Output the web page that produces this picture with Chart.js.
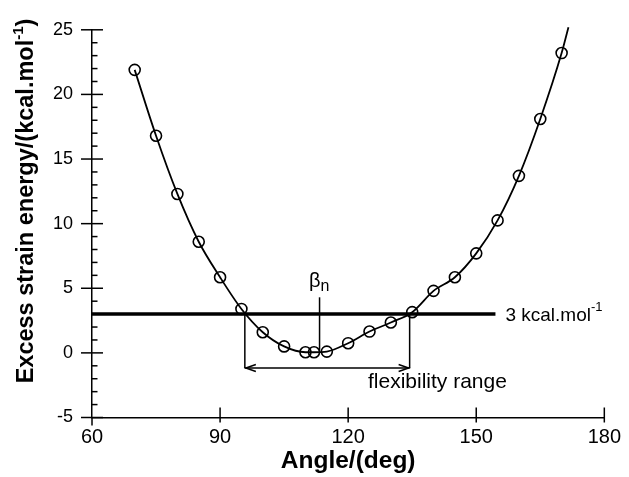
<!DOCTYPE html>
<html>
<head>
<meta charset="utf-8">
<script src="https://cdn.jsdelivr.net/npm/chart.js@4/dist/chart.umd.min.js"></script>
<style>
  html, body { margin: 0; padding: 0; background: #fff; }
  #wrap { width: 629px; height: 477px; }
</style>
</head>
<body>
<div id="wrap"><canvas id="c" width="629" height="477"></canvas></div>
<script>
// measured points (angle in deg, excess strain energy in kcal/mol)
var angles = [70, 75, 80, 85, 90, 95, 100, 105, 110, 112, 115, 120, 125, 130, 135, 140, 145, 150, 155, 160, 165, 170];
var energies = [21.9, 16.8, 12.3, 8.6, 5.85, 3.4, 1.6, 0.5, 0.05, 0.05, 0.1, 0.75, 1.65, 2.35, 3.15, 4.8, 5.85, 7.7, 10.25, 13.7, 18.1, 23.2];
// fitted curve runs a little past the last point
var curveEndAngle = 171.6;
var curveEndEnergy = 25.2;

var xTicks = [60, 90, 120, 150, 180];
var yTicks = [-5, 0, 5, 10, 15, 20, 25];

var limitEnergy = 3;
var limitLine = [60, 154.5];
var betaN = 113.3;
var betaLine = [4.3, 0.15];
var flexRange = [95.8, 134.4];
var flexArrowY = -1.17;

var FONT = "'Liberation Sans', Arial, Helvetica, sans-serif";

var curvePts = angles.map(function(a, i) { return { x: a, y: energies[i] }; });
curvePts.push({ x: curveEndAngle, y: curveEndEnergy });
var markerPts = angles.map(function(a, i) { return { x: a, y: energies[i] }; });

function line(ctx, x1, y1, x2, y2) {
  ctx.beginPath();
  ctx.moveTo(x1, y1);
  ctx.lineTo(x2, y2);
  ctx.stroke();
}

var decor = {
  id: 'decor',
  afterDraw: function(chart) {
    var ctx = chart.ctx;
    var xs = chart.scales.x, ys = chart.scales.y;
    var x0 = xs.left, y0 = ys.bottom;
    ctx.save();
    ctx.strokeStyle = '#000';
    ctx.fillStyle = '#000';
    ctx.lineWidth = 1.5;

    // y ticks: major cross the axis, minor only inside
    yTicks.forEach(function(v) {
      var py = ys.getPixelForValue(v);
      line(ctx, x0 - 11, py, x0 + 11, py);
    });
    for (var v = yTicks[0]; v < yTicks[yTicks.length - 1]; v++) {
      if (v % 5 === 0) continue;
      var py = ys.getPixelForValue(v);
      line(ctx, x0, py, x0 + 5.5, py);
    }
    // x ticks
    xTicks.forEach(function(v) {
      var px = xs.getPixelForValue(v);
      if (v === xTicks[0]) line(ctx, px, y0, px, y0 + 8);
      else line(ctx, px, y0 - 10, px, y0 + 5);
    });

    // beta_n marker
    var bx = xs.getPixelForValue(betaN);
    line(ctx, bx, ys.getPixelForValue(betaLine[0]), bx, ys.getPixelForValue(betaLine[1]));
    ctx.textBaseline = 'alphabetic';
    ctx.font = '20px ' + FONT;
    ctx.textAlign = 'right';
    ctx.fillText('\u03B2', bx + 1, 287);
    ctx.font = '16px ' + FONT;
    ctx.textAlign = 'left';
    ctx.fillText('n', bx + 1, 291);

    // flexibility range bracket
    var lx = xs.getPixelForValue(flexRange[0]);
    var rx = xs.getPixelForValue(flexRange[1]);
    var ty = ys.getPixelForValue(limitEnergy);
    var ay = ys.getPixelForValue(flexArrowY);
    line(ctx, lx, ty, lx, ay);
    line(ctx, rx, ty, rx, ay);
    line(ctx, lx, ay, rx, ay);
    ctx.beginPath();
    ctx.moveTo(lx + 11, ay - 3.5); ctx.lineTo(lx + 1, ay); ctx.lineTo(lx + 11, ay + 3.5);
    ctx.moveTo(rx - 11, ay - 3.5); ctx.lineTo(rx - 1, ay); ctx.lineTo(rx - 11, ay + 3.5);
    ctx.stroke();
    ctx.font = '21px ' + FONT;
    ctx.textAlign = 'left';
    ctx.fillText('flexibility range', 368, 388);

    // limit label
    var ex = xs.getPixelForValue(limitLine[1]);
    ctx.font = '19px ' + FONT;
    ctx.fillText('3 kcal.mol', ex + 10, ty + 6.5);
    var w = ctx.measureText('3 kcal.mol').width;
    ctx.font = '13px ' + FONT;
    ctx.fillText('-1', ex + 10 + w, ty - 3);

    // y axis title with superscript
    ctx.translate(27, 201);
    ctx.rotate(-Math.PI / 2);
    var boldF = 'bold 23.5px ' + FONT, supF = 'bold 15px ' + FONT;
    var a = 'Excess strain energy/(kcal.mol', s = '-1', b = ')';
    ctx.font = boldF; var wa = ctx.measureText(a).width, wb = ctx.measureText(b).width;
    ctx.font = supF; var ws = ctx.measureText(s).width;
    var sx = -(wa + ws + wb) / 2;
    ctx.textAlign = 'left';
    ctx.textBaseline = 'middle';
    ctx.font = boldF; ctx.fillText(a, sx, 0);
    ctx.font = supF; ctx.fillText(s, sx + wa, -8);
    ctx.font = boldF; ctx.fillText(b, sx + wa + ws, 0);
    ctx.restore();
  }
};

new Chart(document.getElementById('c').getContext('2d'), {
  type: 'scatter',
  data: {
    datasets: [
      {
        label: 'fit',
        data: curvePts,
        showLine: true,
        borderColor: '#000',
        borderWidth: 1.8,
        pointRadius: 0,
        cubicInterpolationMode: 'monotone',
        clip: { left: 0, top: 4, right: 0, bottom: 0 }
      },
      {
        label: 'points',
        data: markerPts,
        showLine: false,
        pointRadius: 5.5,
        pointBorderWidth: 1.6,
        pointBorderColor: '#000',
        pointBackgroundColor: 'rgba(0,0,0,0)'
      },
      {
        label: 'limit',
        data: [{ x: limitLine[0], y: limitEnergy }, { x: limitLine[1], y: limitEnergy }],
        showLine: true,
        borderColor: '#000',
        borderWidth: 3.5,
        pointRadius: 0
      }
    ]
  },
  options: {
    responsive: false,
    animation: false,
    layout: { padding: { top: 18, right: 24, left: 0, bottom: 0 } },
    plugins: { legend: { display: false }, tooltip: { enabled: false } },
    scales: {
      x: {
        type: 'linear',
        min: 60, max: 180,
        afterBuildTicks: function(s) { s.ticks = xTicks.map(function(v) { return { value: v }; }); },
        afterFit: function(s) { s.height = 59.5; },
        grid: { display: false, drawTicks: false },
        border: { display: true, color: '#000', width: 1.5 },
        ticks: { color: '#000', padding: 8, maxRotation: 0, font: { family: FONT, size: 20 } },
        title: { display: true, text: 'Angle/(deg)', color: '#000', padding: { top: 0, bottom: 1 }, font: { family: FONT, size: 24.5, weight: 'bold' } }
      },
      y: {
        type: 'linear',
        min: -5, max: 25,
        afterBuildTicks: function(s) { s.ticks = yTicks.map(function(v) { return { value: v }; }); },
        afterFit: function(s) { s.width = 92; },
        grid: { display: false, drawTicks: false },
        border: { display: true, color: '#000', width: 1.5 },
        ticks: { color: '#000', padding: 19, font: { family: FONT, size: 18 } }
      }
    }
  },
  plugins: [decor]
});
</script>
</body>
</html>
